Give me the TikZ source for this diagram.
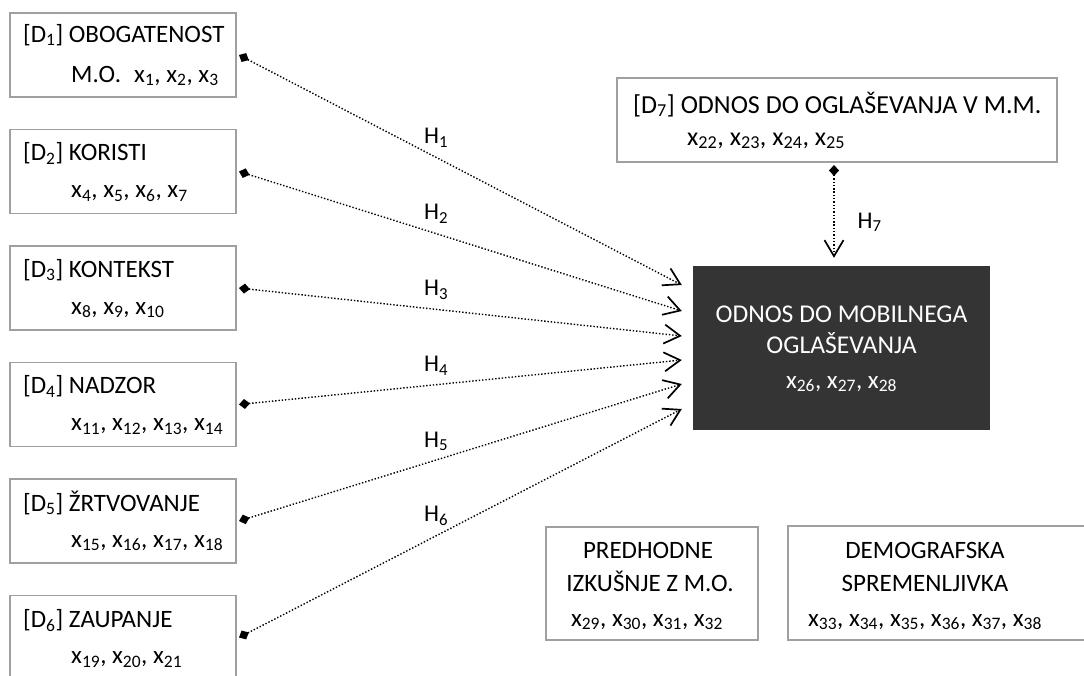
\documentclass[tikz,border=0pt]{standalone}
\usepackage{fontspec}
\setmainfont{Carlito}
\usetikzlibrary{arrows.meta,calc}

\definecolor{boxgray}{RGB}{160,160,160}
\definecolor{darkfill}{RGB}{52,52,52}

\begin{document}
\begin{tikzpicture}[x=1pt,y=-1pt,
  dimbox/.style={draw=boxgray, line width=1.3pt, inner sep=0pt, outer sep=3pt,
                 minimum width=226pt, minimum height=84pt},
  mainbox/.style={fill=darkfill, inner sep=0pt, minimum width=297pt, minimum height=164pt},
  txt/.style={inner sep=0pt, anchor=base west, font=\fontsize{25}{29}\selectfont},
  bigtxt/.style={txt, font=\fontsize{26}{30}\selectfont},
  ctxt/.style={txt, anchor=base},
  hlab/.style={inner sep=0pt, font=\fontsize{24}{28}\selectfont},
  link/.style={line width=1.4pt, dash pattern=on 1.4pt off 1.9pt,
               {Diamond[length=11pt,width=10pt]}-{Straight Barb[length=16pt,width=19pt,line width=1.7pt]}}
]
\useasboundingbox (0,0) rectangle (1084,675);
\clip (0,0) rectangle (1084,675);

% determinant boxes on the left
\node[dimbox] (D1) at (123,55) {};
\node[dimbox] (D2) at (123,171.5) {};
\node[dimbox] (D3) at (123,288) {};
\node[dimbox] (D4) at (123,404.5) {};
\node[dimbox] (D5) at (123,521) {};
\node[dimbox] (D6) at (123,637.5) {};

\node[txt] (D1a) at ($(D1.center)+(-100,-13)$) {[D\textsubscript{1}] OBOGATENOST};
\node[txt] (D1b) at ($(D1.center)+(-52,27)$) {M.O.\hspace{0.3em} x\textsubscript{1}, x\textsubscript{2}, x\textsubscript{3}};
\node[txt] (D2a) at ($(D2.center)+(-100,-11)$) {[D\textsubscript{2}] KORISTI};
\node[txt] (D2b) at ($(D2.center)+(-52,26)$) {x\textsubscript{4}, x\textsubscript{5}, x\textsubscript{6}, x\textsubscript{7}};
\node[txt] (D3a) at ($(D3.center)+(-100,-11)$) {[D\textsubscript{3}] KONTEKST};
\node[txt] (D3b) at ($(D3.center)+(-52,26)$) {x\textsubscript{8}, x\textsubscript{9}, x\textsubscript{10}};
\node[txt] (D4a) at ($(D4.center)+(-100,-11)$) {[D\textsubscript{4}] NADZOR};
\node[txt] (D4b) at ($(D4.center)+(-52,26)$) {x\textsubscript{11}, x\textsubscript{12}, x\textsubscript{13}, x\textsubscript{14}};
\node[txt] (D5a) at ($(D5.center)+(-100,-10)$) {[D\textsubscript{5}] ŽRTVOVANJE};
\node[txt] (D5b) at ($(D5.center)+(-52,26)$) {x\textsubscript{15}, x\textsubscript{16}, x\textsubscript{17}, x\textsubscript{18}};
\node[txt] (D6a) at ($(D6.center)+(-100,-10)$) {[D\textsubscript{6}] ZAUPANJE};
\node[txt] (D6b) at ($(D6.center)+(-52,26)$) {x\textsubscript{19}, x\textsubscript{20}, x\textsubscript{21}};

% attitude towards mobile advertising
\node[mainbox] (M) at (841.5,348) {};
\node[ctxt, text=white, font=\fontsize{25.6}{30}\selectfont] (Ma) at (841.5,322) {ODNOS DO MOBILNEGA};
\node[ctxt, text=white, font=\fontsize{25.6}{30}\selectfont] (Mb) at (841.5,353) {OGLAŠEVANJA};
\node[ctxt, text=white] (Mc) at (841.5,388) {x\textsubscript{26}, x\textsubscript{27}, x\textsubscript{28}};

% D7 box above
\node[dimbox, minimum width=440pt] (D7) at (837,120) {};
\node[bigtxt] (D7a) at (633,113) {[D\textsubscript{7}] ODNOS DO OGLAŠEVANJA V M.M.};
\node[bigtxt] (D7b) at (687,145) {x\textsubscript{22}, x\textsubscript{23}, x\textsubscript{24}, x\textsubscript{25}};

% control variables
\node[dimbox, minimum width=212pt, minimum height=113pt] (P) at (652,583.5) {};
\node[ctxt] (Pa) at (648,558) {PREDHODNE};
\node[ctxt] (Pb) at (650,591) {IZKUŠNJE Z M.O.};
\node[ctxt] (Pc) at (647,626) {x\textsubscript{29}, x\textsubscript{30}, x\textsubscript{31}, x\textsubscript{32}};

\node[dimbox, minimum width=304pt, minimum height=114pt] (S) at (940,583) {};
\node[ctxt] (Sa) at (925,558) {DEMOGRAFSKA};
\node[ctxt] (Sb) at (925,591) {SPREMENLJIVKA};
\node[ctxt] (Sc) at (925,626) {x\textsubscript{33}, x\textsubscript{34}, x\textsubscript{35}, x\textsubscript{36}, x\textsubscript{37}, x\textsubscript{38}};

% arrow ends in front of the dark box
\coordinate (t1) at ($(M.west)+(-11,-63)$);
\coordinate (t2) at ($(M.west)+(-11,-37)$);
\coordinate (t3) at ($(M.west)+(-11,-12)$);
\coordinate (t4) at ($(M.west)+(-11,12)$);
\coordinate (t5) at ($(M.west)+(-11,36)$);
\coordinate (t6) at ($(M.west)+(-11,61)$);
\coordinate (t7) at ($(M.north)+(-7.5,-8)$);

% hypotheses
\draw[link] (D1.east) -- node[hlab, pos=0.445, anchor=base, yshift=14pt] (H1) {H\textsubscript{1}} (t1);
\draw[link] (D2.east) -- node[hlab, pos=0.445, anchor=base, yshift=14pt] (H2) {H\textsubscript{2}} (t2);
\draw[link] (D3.east) -- node[hlab, pos=0.445, anchor=base, yshift=14pt] (H3) {H\textsubscript{3}} (t3);
\draw[link] (D4.east) -- node[hlab, pos=0.445, anchor=base, yshift=13pt] (H4) {H\textsubscript{4}} (t4);
\draw[link] (D5.east) -- node[hlab, pos=0.445, anchor=base, yshift=13pt] (H5) {H\textsubscript{5}} (t5);
\draw[link] (D6.east) -- node[hlab, pos=0.445, anchor=base, yshift=14pt] (H6) {H\textsubscript{6}} (t6);
\draw[link] (D7.south -| t7) -- node[hlab, pos=0.68, anchor=base west, xshift=23pt] (H7) {H\textsubscript{7}} (t7);
\end{tikzpicture}
\end{document}
